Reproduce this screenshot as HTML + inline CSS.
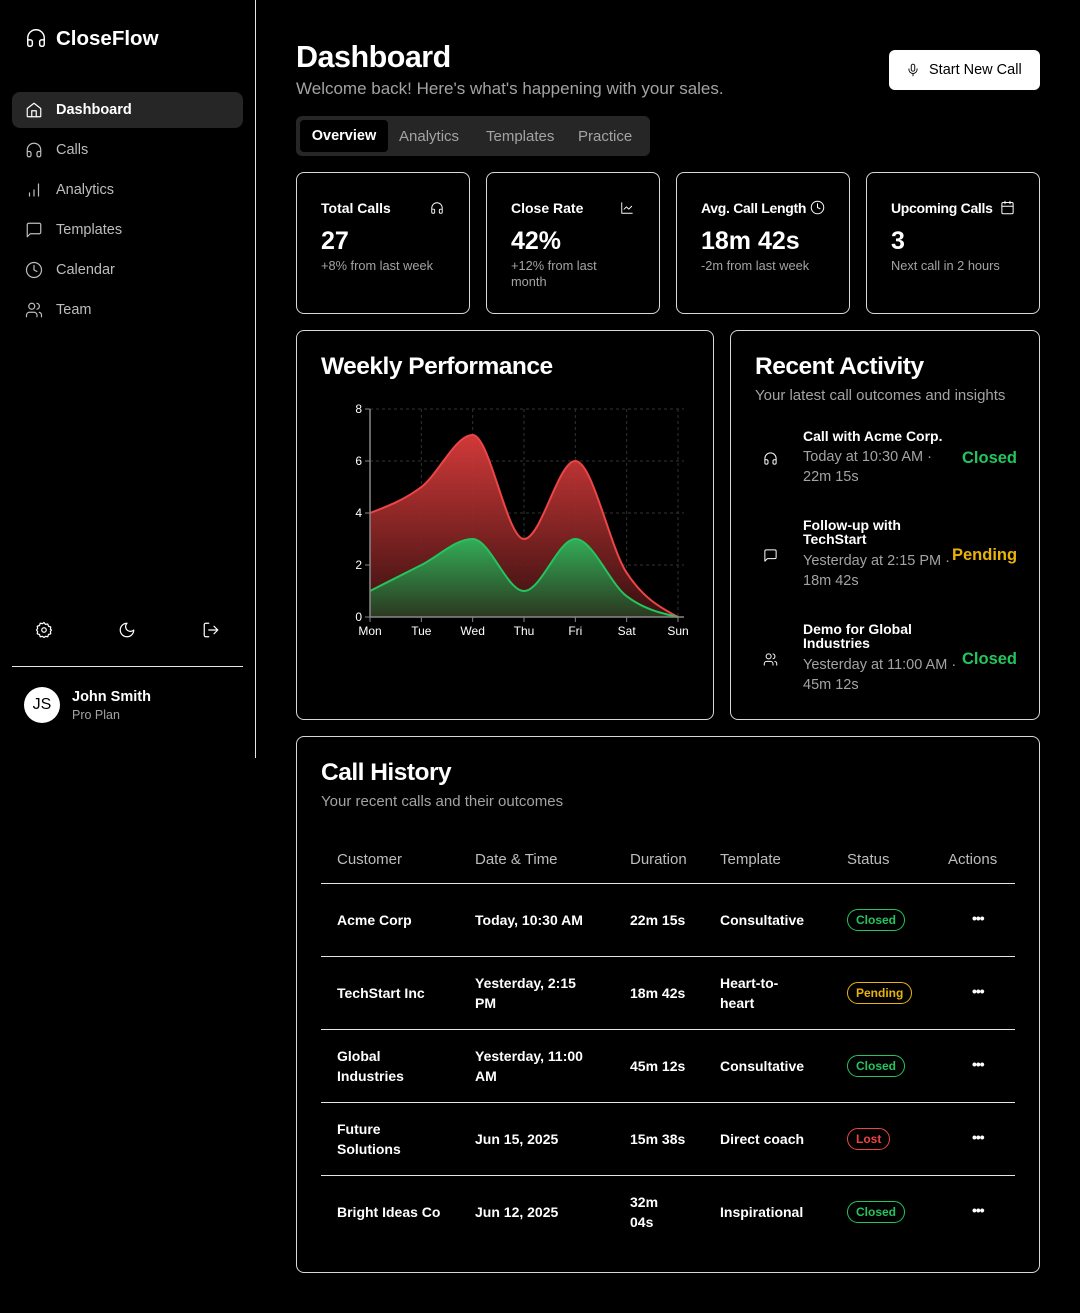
<!DOCTYPE html>
<html><head><meta charset="utf-8"><style>
*{box-sizing:border-box;margin:0;padding:0}
body{width:1080px;height:1313px;background:#000;color:#fff;font-family:"Liberation Sans",sans-serif;position:relative;overflow:hidden}
.a{position:absolute;white-space:nowrap}
.card{position:absolute;border:1px solid #d8d8d8;border-radius:8px}
.muted{color:#a3a3a3}
.nav{position:absolute;left:12px;width:231px;height:36px;border-radius:8px;font-size:14.5px;color:#bdbdbd}
.nav span{position:absolute;left:44px;top:10px}
.nav svg{position:absolute;left:13px;top:9px}
.ic{fill:none;stroke:currentColor;stroke-width:1.6;stroke-linecap:round;stroke-linejoin:round}
.th{position:absolute;top:851px;font-size:15px;color:#bdbdbd}
.td{position:absolute;font-size:14px;line-height:20px;color:#fff;font-weight:bold}
.badge{position:absolute;height:22px;border:1px solid;border-radius:11px;font-size:12px;font-weight:bold;padding:0 8px;line-height:20px}
.dots{position:absolute;left:972px;font-size:14px;font-weight:bold;letter-spacing:-1px}
.hr{position:absolute;left:321px;width:694px;height:1px;background:#e5e5e5}
</style></head><body>
<!-- sidebar -->
<div>
<svg class="a ic" style="left:25px;top:27px" width="22" height="22" viewBox="0 0 24 24"><path d="M3 14h3a2 2 0 0 1 2 2v3a2 2 0 0 1-2 2H5a2 2 0 0 1-2-2v-7a9 9 0 0 1 18 0v7a2 2 0 0 1-2 2h-1a2 2 0 0 1-2-2v-3a2 2 0 0 1 2-2h3" stroke="#fff"/></svg>
<div class="a" style="left:56px;top:27px;font-size:20.5px;font-weight:bold">CloseFlow</div>
<div class="nav" style="top:92px;background:#262626;color:#fff;font-weight:bold"><svg class="ic" width="18" height="18" viewBox="0 0 24 24"><path d="M3 10l9-7 9 7v10a1 1 0 0 1-1 1H4a1 1 0 0 1-1-1z"/><path d="M9 21v-8h6v8"/></svg><span>Dashboard</span></div>
<div class="nav" style="top:132px"><svg class="ic" width="18" height="18" viewBox="0 0 24 24"><path d="M3 14h3a2 2 0 0 1 2 2v3a2 2 0 0 1-2 2H5a2 2 0 0 1-2-2v-7a9 9 0 0 1 18 0v7a2 2 0 0 1-2 2h-1a2 2 0 0 1-2-2v-3a2 2 0 0 1 2-2h3"/></svg><span>Calls</span></div>
<div class="nav" style="top:172px"><svg class="ic" width="18" height="18" viewBox="0 0 24 24"><path d="M6 20v-4M12 20v-8M18 20V4"/></svg><span>Analytics</span></div>
<div class="nav" style="top:212px"><svg class="ic" width="18" height="18" viewBox="0 0 24 24"><path d="M21 15a2 2 0 0 1-2 2H7l-4 4V5a2 2 0 0 1 2-2h14a2 2 0 0 1 2 2z"/></svg><span>Templates</span></div>
<div class="nav" style="top:252px"><svg class="ic" width="18" height="18" viewBox="0 0 24 24"><circle cx="12" cy="12" r="10"/><path d="M12 6v6l4 2"/></svg><span>Calendar</span></div>
<div class="nav" style="top:292px"><svg class="ic" width="18" height="18" viewBox="0 0 24 24"><circle cx="9" cy="7" r="4"/><path d="M16 21v-2a4 4 0 0 0-4-4H6a4 4 0 0 0-4 4v2M16 3.1a4 4 0 0 1 0 7.8M22 21v-2a4 4 0 0 0-3-3.9"/></svg><span>Team</span></div>
<svg class="a ic" style="left:35px;top:621px" width="18" height="18" viewBox="0 0 24 24"><circle cx="12" cy="12" r="3"/><path d="M12 2l2 2.5 3-.5 1 3 3 1-.5 3L22 12l-1.5 2 .5 3-3 1-1 3-3-.5L12 22l-2-1.5-3 .5-1-3-3-1 .5-3L2 12l1.5-2-.5-3 3-1 1-3 3 .5z"/></svg>
<svg class="a ic" style="left:118px;top:621px" width="18" height="18" viewBox="0 0 24 24"><path d="M12 3a6 6 0 0 0 9 9 9 9 0 1 1-9-9z"/></svg>
<svg class="a ic" style="left:202px;top:621px" width="18" height="18" viewBox="0 0 24 24"><path d="M9 21H5a2 2 0 0 1-2-2V5a2 2 0 0 1 2-2h4M16 17l5-5-5-5M21 12H9"/></svg>
<div class="a" style="left:12px;top:666px;width:231px;height:1px;background:#e5e5e5"></div>
<div class="a" style="left:24px;top:687px;width:36px;height:36px;border-radius:50%;background:#fff;color:#000;font-size:16px;text-align:center;line-height:36px">JS</div>
<div class="a" style="left:72px;top:689px;font-size:14.5px;font-weight:bold">John Smith</div>
<div class="a muted" style="left:72px;top:708px;font-size:12.5px">Pro Plan</div>
<div class="a" style="left:255px;top:0;width:1px;height:758px;background:#e5e5e5"></div>
</div>
<!-- header -->
<div class="a" style="left:296px;top:40px;font-size:30.5px;font-weight:bold;letter-spacing:-0.5px">Dashboard</div>
<div class="a muted" style="left:296px;top:79px;font-size:17px">Welcome back! Here's what's happening with your sales.</div>
<div class="a" style="left:889px;top:50px;width:151px;height:40px;background:#fff;border-radius:6px;color:#000;font-size:14.5px"><svg class="a ic" style="left:17px;top:12px" width="14" height="16" viewBox="0 0 24 24"><rect x="9" y="2" width="6" height="12" rx="3"/><path d="M19 10v1a7 7 0 0 1-14 0v-1M12 18v4"/></svg><span class="a" style="left:40px;top:12px">Start New Call</span></div>
<div class="a" style="left:296px;top:116px;width:354px;height:40px;background:#262626;border-radius:6px">
<div class="a" style="left:4px;top:4px;width:88px;height:32px;background:#000;border-radius:4px;font-size:14.5px;font-weight:bold;text-align:center;line-height:32px">Overview</div>
<div class="a muted" style="left:103px;top:12px;font-size:15px">Analytics</div>
<div class="a muted" style="left:190px;top:12px;font-size:15px">Templates</div>
<div class="a muted" style="left:282px;top:12px;font-size:15px">Practice</div>
</div>
<!-- stat cards -->
<div class="card" style="left:296px;top:172px;width:174px;height:142px">
<div class="a" style="left:24px;top:27px;font-size:14px;font-weight:bold">Total Calls</div>
<svg class="a ic" style="left:133px;top:28px" width="14" height="14" viewBox="0 0 24 24"><path d="M3 14h3a2 2 0 0 1 2 2v3a2 2 0 0 1-2 2H5a2 2 0 0 1-2-2v-7a9 9 0 0 1 18 0v7a2 2 0 0 1-2 2h-1a2 2 0 0 1-2-2v-3a2 2 0 0 1 2-2h3"/></svg>
<div class="a" style="left:24px;top:54px;font-size:25px;font-weight:bold">27</div>
<div class="a muted" style="left:24px;top:85px;font-size:12.8px">+8% from last week</div></div>
<div class="card" style="left:486px;top:172px;width:174px;height:142px">
<div class="a" style="left:24px;top:27px;font-size:14px;font-weight:bold">Close Rate</div>
<svg class="a ic" style="left:133px;top:28px" width="14" height="14" viewBox="0 0 24 24"><path d="M3 3v18h18M7 14l4-4 4 4 5-5"/></svg>
<div class="a" style="left:24px;top:54px;font-size:25px;font-weight:bold">42%</div>
<div class="a muted" style="left:24px;top:85px;font-size:12.8px;line-height:16px;white-space:normal;width:100px">+12% from last month</div></div>
<div class="card" style="left:676px;top:172px;width:174px;height:142px">
<div class="a" style="left:24px;top:27px;font-size:14px;font-weight:bold;letter-spacing:-0.3px">Avg. Call Length</div>
<svg class="a ic" style="left:133px;top:27px" width="15" height="15" viewBox="0 0 24 24"><circle cx="12" cy="12" r="10"/><path d="M12 6v6l4 2"/></svg>
<div class="a" style="left:24px;top:54px;font-size:25px;font-weight:bold">18m 42s</div>
<div class="a muted" style="left:24px;top:85px;font-size:12.8px">-2m from last week</div></div>
<div class="card" style="left:866px;top:172px;width:174px;height:142px">
<div class="a" style="left:24px;top:27px;font-size:14px;font-weight:bold;letter-spacing:-0.3px">Upcoming Calls</div>
<svg class="a ic" style="left:133px;top:27px" width="15" height="15" viewBox="0 0 24 24"><rect x="3" y="4" width="18" height="18" rx="2"/><path d="M16 2v4M8 2v4M3 10h18"/></svg>
<div class="a" style="left:24px;top:54px;font-size:25px;font-weight:bold">3</div>
<div class="a muted" style="left:24px;top:85px;font-size:12.8px">Next call in 2 hours</div></div>
<!-- chart card -->
<div class="card" style="left:296px;top:330px;width:418px;height:390px">
<div class="a" style="left:24px;top:22px;font-size:24.5px;font-weight:bold;letter-spacing:-0.5px">Weekly Performance</div>
</div>
<svg class="a" id="chart" style="left:340px;top:400px" width="360" height="245"></svg>
<!-- activity -->
<div class="card" style="left:730px;top:330px;width:310px;height:390px">
<div class="a" style="left:24px;top:22px;font-size:24.5px;font-weight:bold;letter-spacing:-0.5px">Recent Activity</div>
<div class="a muted" style="left:24px;top:56px;font-size:15px">Your latest call outcomes and insights</div>
</div>
<div>
<svg class="a ic" style="left:763px;top:451px" width="15" height="15" viewBox="0 0 24 24"><path d="M3 14h3a2 2 0 0 1 2 2v3a2 2 0 0 1-2 2H5a2 2 0 0 1-2-2v-7a9 9 0 0 1 18 0v7a2 2 0 0 1-2 2h-1a2 2 0 0 1-2-2v-3a2 2 0 0 1 2-2h3"/></svg>
<div class="a" style="left:803px;top:428px;font-size:14px;font-weight:bold">Call with Acme Corp.</div>
<div class="a muted" style="left:803px;top:447px;font-size:14.5px;line-height:20px">Today at 10:30 AM ·<br>22m 15s</div>
<div class="a" style="left:962px;top:449px;font-size:16.5px;font-weight:bold;color:#22c55e">Closed</div></div>
<div>
<svg class="a ic" style="left:763px;top:548px" width="15" height="15" viewBox="0 0 24 24"><path d="M21 15a2 2 0 0 1-2 2H7l-4 4V5a2 2 0 0 1 2-2h14a2 2 0 0 1 2 2z"/></svg>
<div class="a" style="left:803px;top:518px;font-size:14px;font-weight:bold;line-height:14px">Follow-up with<br>TechStart</div>
<div class="a muted" style="left:803px;top:551px;font-size:14.5px;line-height:20px">Yesterday at 2:15 PM ·<br>18m 42s</div>
<div class="a" style="left:952px;top:546px;font-size:16.5px;font-weight:bold;color:#eab308">Pending</div></div>
<div>
<svg class="a ic" style="left:763px;top:652px" width="15" height="15" viewBox="0 0 24 24"><circle cx="9" cy="7" r="4"/><path d="M16 21v-2a4 4 0 0 0-4-4H6a4 4 0 0 0-4 4v2M16 3.1a4 4 0 0 1 0 7.8M22 21v-2a4 4 0 0 0-3-3.9"/></svg>
<div class="a" style="left:803px;top:622px;font-size:14px;font-weight:bold;line-height:14px">Demo for Global<br>Industries</div>
<div class="a muted" style="left:803px;top:655px;font-size:14.5px;line-height:20px">Yesterday at 11:00 AM ·<br>45m 12s</div>
<div class="a" style="left:962px;top:650px;font-size:16.5px;font-weight:bold;color:#22c55e">Closed</div></div>
<!-- call history -->
<div class="card" style="left:296px;top:736px;width:744px;height:537px">
<div class="a" style="left:24px;top:22px;font-size:24.5px;font-weight:bold;letter-spacing:-0.5px">Call History</div>
<div class="a muted" style="left:24px;top:56px;font-size:15px">Your recent calls and their outcomes</div>
</div>
<div class="th" style="left:337px">Customer</div>
<div class="th" style="left:475px">Date &amp; Time</div>
<div class="th" style="left:630px">Duration</div>
<div class="th" style="left:720px">Template</div>
<div class="th" style="left:847px">Status</div>
<div class="th" style="left:948px">Actions</div>
<div class="hr" style="top:883px"></div>
<div class="hr" style="top:956px"></div>
<div class="hr" style="top:1029px"></div>
<div class="hr" style="top:1102px"></div>
<div class="hr" style="top:1175px"></div>
<div>
<div class="td" style="left:337px;top:910px">Acme Corp</div><div class="td" style="left:475px;top:910px">Today, 10:30 AM</div><div class="td" style="left:630px;top:910px">22m 15s</div><div class="td" style="left:720px;top:910px">Consultative</div>
<div class="badge" style="left:847px;top:909px;color:#22c55e">Closed</div><div class="dots" style="top:910px">•••</div></div>
<div>
<div class="td" style="left:337px;top:983px">TechStart Inc</div><div class="td" style="left:475px;top:973px">Yesterday, 2:15<br>PM</div><div class="td" style="left:630px;top:983px">18m 42s</div><div class="td" style="left:720px;top:973px">Heart-to-<br>heart</div>
<div class="badge" style="left:847px;top:982px;color:#eab308">Pending</div><div class="dots" style="top:983px">•••</div></div>
<div>
<div class="td" style="left:337px;top:1046px">Global<br>Industries</div><div class="td" style="left:475px;top:1046px">Yesterday, 11:00<br>AM</div><div class="td" style="left:630px;top:1056px">45m 12s</div><div class="td" style="left:720px;top:1056px">Consultative</div>
<div class="badge" style="left:847px;top:1055px;color:#22c55e">Closed</div><div class="dots" style="top:1056px">•••</div></div>
<div>
<div class="td" style="left:337px;top:1119px">Future<br>Solutions</div><div class="td" style="left:475px;top:1129px">Jun 15, 2025</div><div class="td" style="left:630px;top:1129px">15m 38s</div><div class="td" style="left:720px;top:1129px">Direct coach</div>
<div class="badge" style="left:847px;top:1128px;color:#ef4444">Lost</div><div class="dots" style="top:1129px">•••</div></div>
<div>
<div class="td" style="left:337px;top:1202px">Bright Ideas Co</div><div class="td" style="left:475px;top:1202px">Jun 12, 2025</div><div class="td" style="left:630px;top:1192px">32m<br>04s</div><div class="td" style="left:720px;top:1202px">Inspirational</div>
<div class="badge" style="left:847px;top:1201px;color:#22c55e">Closed</div><div class="dots" style="top:1202px">•••</div></div>
<script>
const days=["Mon","Tue","Wed","Thu","Fri","Sat","Sun"];
const totalCalls=[4,5,7,3,6,1.7,0];
const closedCalls=[1,2,3,1,3,0.8,0];
const yTicks=[0,2,4,6,8];
const NS="http://www.w3.org/2000/svg";
const svg=document.getElementById('chart');
const X0=30,X1=338,Y0=217,Y1=9,YMAX=8;
const xs=i=>X0+(X1-X0)*i/(days.length-1);
const ys=v=>Y0-(Y0-Y1)*v/YMAX;
function mk(t,a,p){const e=document.createElementNS(NS,t);for(const k in a)e.setAttribute(k,a[k]);(p||svg).appendChild(e);return e;}
function monotone(px,py){const n=px.length,d=[],m=[];for(let i=0;i<n-1;i++)d.push((py[i+1]-py[i])/(px[i+1]-px[i]));
for(let i=1;i<n-1;i++){if(d[i-1]*d[i]<=0)m[i]=0;else{const h0=px[i]-px[i-1],h1=px[i+1]-px[i];const p=(d[i-1]*h1+d[i]*h0)/(h0+h1);m[i]=(Math.sign(d[i-1])+Math.sign(d[i]))*Math.min(Math.abs(d[i-1]),Math.abs(d[i]),0.5*Math.abs(p));}}
m[0]=(3*d[0]-m[1])/2;m[n-1]=(3*d[n-2]-m[n-2])/2;
let s="M"+px[0]+","+py[0];for(let i=0;i<n-1;i++){const dx=(px[i+1]-px[i])/3;s+=" C"+(px[i]+dx)+","+(py[i]+m[i]*dx)+" "+(px[i+1]-dx)+","+(py[i+1]-m[i+1]*dx)+" "+px[i+1]+","+py[i+1];}return s;}
const defs=mk('defs',{});
[['gr','#dc3c3c','#3a1010'],['gg','#2fb45a','#2a3a20']].forEach(([id,a,b])=>{const g=mk('linearGradient',{id,x1:0,y1:0,x2:0,y2:1},defs);mk('stop',{offset:'0','stop-color':a,'stop-opacity':0.95},g);mk('stop',{offset:'1','stop-color':b,'stop-opacity':0.95},g);});
yTicks.forEach(t=>{const l=mk('line',{x1:X0,x2:X1+6,y1:ys(t),y2:ys(t),stroke:'#333','stroke-dasharray':'3 3'});});
days.forEach((d,i)=>{const l=mk('line',{x1:xs(i),x2:xs(i),y1:Y1,y2:Y0,stroke:'#333','stroke-dasharray':'3 3'});});
const px=days.map((d,i)=>xs(i));
[[totalCalls,'gr','#ef4444','area-total-calls'],[closedCalls,'gg','#22c55e','area-closed-calls']].forEach(([vals,g,c,name])=>{
const line=monotone(px,vals.map(ys));
const ar=mk('path',{d:line+" L"+X1+","+Y0+" L"+X0+","+Y0+" Z",fill:'url(#'+g+')'});
const ln=mk('path',{d:line,fill:'none',stroke:c,'stroke-width':2});});
const ax=mk('path',{d:"M"+X0+","+Y1+"V"+Y0+"H"+(X1+6),stroke:'#888',fill:'none','stroke-width':1.5});
yTicks.forEach(t=>{mk('line',{x1:X0-5,x2:X0,y1:ys(t),y2:ys(t),stroke:'#888'});const tx=mk('text',{x:X0-8,y:ys(t)+4,'text-anchor':'end',fill:'#fff','font-size':12,'font-family':'Liberation Sans'});tx.textContent=t;});
days.forEach((d,i)=>{mk('line',{x1:xs(i),x2:xs(i),y1:Y0,y2:Y0+5,stroke:'#888'});const tx=mk('text',{x:xs(i),y:Y0+18,'text-anchor':'middle',fill:'#fff','font-size':12,'font-family':'Liberation Sans'});tx.textContent=d;});
</script>
</body></html>
